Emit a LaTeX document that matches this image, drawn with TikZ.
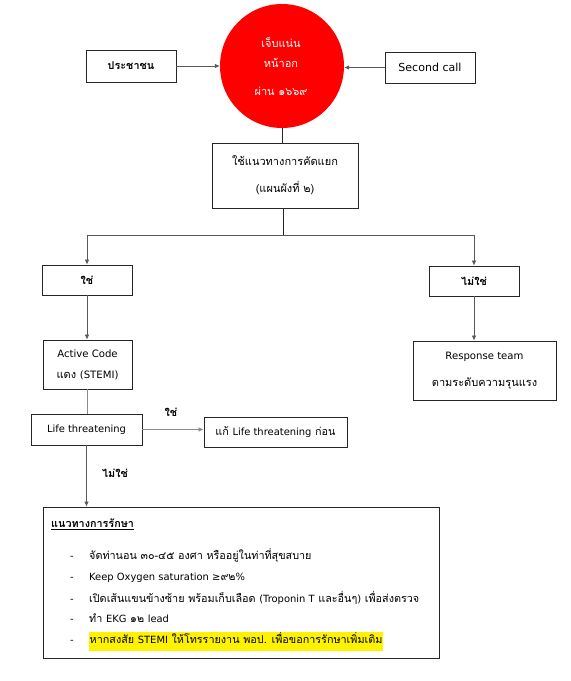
\documentclass[tikz,border=0pt]{standalone}
\usepackage{fontspec}
\setmainfont[Script=Thai]{Loma}
\newfontfamily\dejavu[Scale=0.92]{DejaVu Sans}
\newcommand\lat[1]{{\dejavu #1}}
\usetikzlibrary{arrows.meta}
\begin{document}
\begin{tikzpicture}[x=1pt,y=-1pt,
  box/.style={draw=black!85,line width=0.9pt,inner sep=0pt,align=center,font=\fontsize{10.8}{13}\selectfont},
  arr/.style={draw=black!65,line width=0.7pt,-{Latex[length=5pt,width=4.5pt]}},
  ln/.style={draw=black!65,line width=0.7pt},
  lbl/.style={inner sep=0pt,font=\fontsize{10.8}{13}\selectfont\bfseries},
  txt/.style={inner sep=0pt,anchor=west,text height=8pt,text depth=3pt,font=\fontsize{10.8}{13}\selectfont},
  wtxt/.style={inner sep=0pt,text=white,font=\fontsize{11}{13}\selectfont}]
\useasboundingbox (0,0) rectangle (571,681);
% top row
\node[circle,fill=red,minimum size=124pt,inner sep=0pt] (c) at (282,66) {};
\node[wtxt] (c1) at (281,42) {เจ็บแน่น};
\node[wtxt] (c2) at (281,63) {หน้าอก};
\node[wtxt] (c3) at (281,91) {ผ่าน ๑๖๖๙};
\node[box,minimum width=90pt,minimum height=32pt,font=\fontsize{10.8}{13}\selectfont\bfseries] (pub) at (131,66) {ประชาชน};
\node[box,minimum width=90pt,minimum height=31pt,font=\fontsize{12}{13}\selectfont] (sec) at (430,67.5) {\lat{Second call}};
% triage
\node[box,minimum width=146pt,minimum height=65pt,font=\fontsize{11}{27}\selectfont] (tri) at (285,175.5) {ใช้แนวทางการคัดแยก\\(แผนผังที่ ๒)};
\coordinate (split) at (283,235);
% yes / no
\node[box,minimum width=90pt,minimum height=30pt,font=\fontsize{10.8}{13}\selectfont\bfseries] (yes) at (87,280) {ใช่};
\node[box,minimum width=90pt,minimum height=30pt,font=\fontsize{10.8}{13}\selectfont\bfseries] (no) at (474,281) {ไม่ใช่};
% left branch
\node[box,minimum width=89pt,minimum height=49pt,font=\fontsize{11}{21}\selectfont] (act) at (87.5,364.5) {\lat{Active Code}\\แดง \lat{(STEMI)}};
\node[box,minimum width=111pt,minimum height=31pt] (life) at (86.5,429.5) {\lat{Life threatening}};
\node[box,minimum width=143pt,minimum height=30pt] (fix) at (275.5,432) {แก้ \lat{Life threatening} ก่อน};
\node[lbl] (lyes) at (171,412) {ใช่};
\node[lbl] (lno) at (115,473) {ไม่ใช่};
% right branch
\node[box,minimum width=143pt,minimum height=59pt,font=\fontsize{11}{27}\selectfont] (resp) at (484.5,370.5) {\lat{Response team}\\ตามระดับความรุนแรง};
% treatment
\node[draw=black!85,line width=0.9pt,minimum width=396pt,minimum height=151pt,inner sep=0pt] (treat) at (241,582.5) {};
\node[txt,font=\fontsize{10.8}{13}\selectfont\bfseries] (tt) at (51,525) {\underline{แนวทางการรักษา}};
\node[txt] (d1) at (70,557) {\lat{-}};
\node[txt] (d2) at (70,578) {\lat{-}};
\node[txt] (d3) at (70,600) {\lat{-}};
\node[txt] (d4) at (70,620) {\lat{-}};
\node[txt] (d5) at (70,641) {\lat{-}};
\node[txt] (t1) at (89,557) {จัดท่านอน ๓๐-๔๕ องศา หรืออยู่ในท่าที่สุขสบาย};
\node[txt] (t2) at (89,578) {\lat{Keep Oxygen saturation ≥}๙๒\lat{\%}};
\node[txt] (t3) at (89,600) {เปิดเส้นแขนข้างซ้าย พร้อมเก็บเลือด \lat{(Troponin T} และอื่นๆ\lat{)} เพื่อส่งตรวจ};
\node[txt] (t4) at (89,620) {ทำ \lat{EKG} ๑๒ \lat{lead}};
\node[txt,fill=yellow,inner ysep=4pt,inner xsep=0.5pt] (t5) at (89,641) {หากสงสัย \lat{STEMI} ให้โทรรายงาน พอป. เพื่อขอการรักษาเพิ่มเติม};
% connectors
\draw[arr] (pub.east) -- (pub.east -| c.west);
\draw[arr] (sec.west) -- (sec.west -| c.east);
\draw[ln,draw=black!85,line width=0.9pt] (c.south) -- (c.south |- tri.north);
\draw[ln,draw=black!85,line width=0.9pt] (tri.south -| split) -- (split);
\draw[arr] (split) -| (yes.north);
\draw[arr] (split) -| (no.north);
\draw[arr] (yes.south) -- (yes.south |- act.north);
\draw[arr] (no.south) -- (no.south |- resp.north);
\draw[ln,draw=black!45] (act.south) -- (act.south |- life.north);
\draw[arr,draw=black!45] (life.east) -- (life.east -| fix.west);
\draw[arr] (life.south) -- (life.south |- treat.north);
\end{tikzpicture}
\end{document}
